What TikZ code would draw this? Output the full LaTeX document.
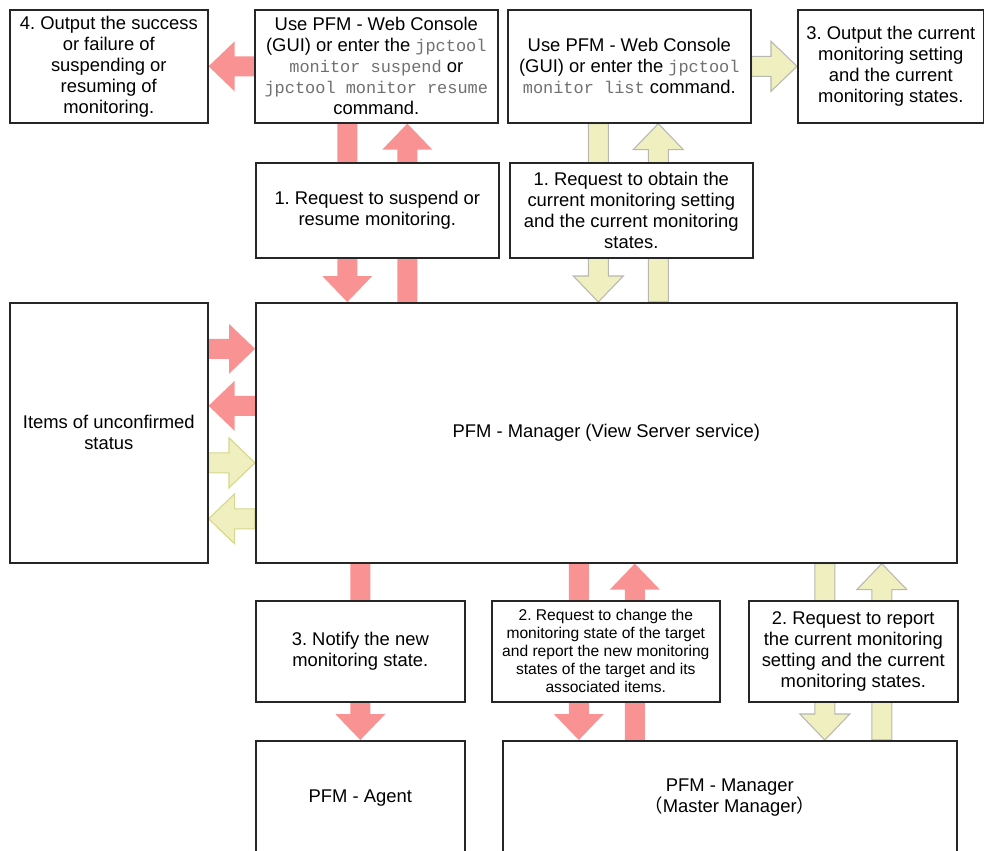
\documentclass[tikz,border=0pt]{standalone}
\usepackage{fontspec}
\setmainfont{Liberation Sans}
\setmonofont{Liberation Mono}[Scale=0.92]
\newfontfamily\cjk{Noto Sans CJK JP}
\usepackage{tikz}
\usetikzlibrary{
  calc,
  backgrounds
}
\frenchspacing
\definecolor{pfmRed}{HTML}{F99292}
\definecolor{pfmYellow}{HTML}{EFEFC0}
\definecolor{pfmOlive}{HTML}{D6D68C}
\definecolor{pfmGrey}{HTML}{B8B8B0}
\definecolor{pfmCmd}{HTML}{707070}
\newcommand\boxfont{\fontsize{13.8}{15.75}\selectfont}
\newcommand\smallboxfont{\fontsize{11.7}{13.5}\selectfont}
\newcommand\cmdtext[1]{{\ttfamily\color{pfmCmd}#1}}
% block arrow from #2 to #3, drawn with style #1
\newcommand\fatarrow[3]{%
  \path[#1] let \p1=#2, \p2=#3,
      \n1={atan2(\y2-\y1,\x2-\x1)} in
    ($(\p1)+(\n1-90:7.5pt)$)
    -- ($(\p2)+(\n1:-19.5pt)+(\n1-90:7.5pt)$)
    -- ($(\p2)+(\n1:-19.5pt)+(\n1-90:18.75pt)$)
    -- (\p2)
    -- ($(\p2)+(\n1:-19.5pt)+(\n1+90:18.75pt)$)
    -- ($(\p2)+(\n1:-19.5pt)+(\n1+90:7.5pt)$)
    -- ($(\p1)+(\n1+90:7.5pt)$) -- cycle;
}
\tikzset{
  pfmbox/.style={
    draw=black!85, line width=1.2pt, fill=white, anchor=north west,
    align=center, inner sep=2pt, font=\boxfont
  },
  redarrow/.style={fill=pfmRed},
  yellowarrow/.style={fill=pfmYellow, draw=pfmGrey, line width=0.8pt},
  sidearrow/.style={fill=pfmYellow, draw=pfmOlive, line width=0.8pt}
}

\begin{document}
\begin{tikzpicture}[x=0.75pt, y=-0.75pt]
  \useasboundingbox (0,0) rectangle (984,850);

  % top row
  \node[pfmbox, minimum width=198*0.75pt, minimum height=113*0.75pt] (out4) at (9,9)
    {4. Output the success\\or failure of\\suspending or\\resuming of\\monitoring.};
  \node[pfmbox, minimum width=243*0.75pt, minimum height=113*0.75pt] (cmdSR) at (254,9)
    {Use PFM - Web Console\\(GUI) or enter the \cmdtext{jpctool}\\\cmdtext{monitor suspend} or\\\cmdtext{jpctool monitor resume}\\command.};
  \node[pfmbox, minimum width=243*0.75pt, minimum height=113*0.75pt] (cmdList) at (507,9)
    {Use PFM - Web Console\\(GUI) or enter the \cmdtext{jpctool}\\\cmdtext{monitor list} command.};
  \node[pfmbox, minimum width=186*0.75pt, minimum height=113*0.75pt] (out3) at (797,9)
    {3. Output the current\\monitoring setting\\and the current\\monitoring states.};

  % first requests
  \node[pfmbox, minimum width=243*0.75pt, minimum height=95*0.75pt] (req1a) at (255,162)
    {1. Request to suspend or\\resume monitoring.};
  \node[pfmbox, minimum width=243*0.75pt, minimum height=95*0.75pt] (req1b) at (509,162)
    {1. Request to obtain the\\current monitoring setting\\and the current monitoring\\states.};

  % middle row
  \node[pfmbox, minimum width=198*0.75pt, minimum height=260*0.75pt] (items) at (9,302)
    {Items of unconfirmed\\status};
  \node[pfmbox, minimum width=701*0.75pt, minimum height=260*0.75pt] (pvs) at (255,302)
    {PFM - Manager (View Server service)};

  % second requests
  \node[pfmbox, minimum width=209*0.75pt, minimum height=101*0.75pt] (notify3) at (255,600)
    {3. Notify the new\\monitoring state.};
  \node[pfmbox, minimum width=228*0.75pt, minimum height=101*0.75pt, font=\smallboxfont] (req2a) at (491,600)
    {2. Request to change the\\monitoring state of the target\\and report the new monitoring\\states of the target and its\\associated items.};
  \node[pfmbox, minimum width=209*0.75pt, minimum height=101*0.75pt] (req2b) at (748,600)
    {2. Request to report\\the current monitoring\\setting and the current\\monitoring states.};

  % bottom row
  \node[pfmbox, minimum width=209*0.75pt, minimum height=114*0.75pt] (agent) at (255,740)
    {PFM - Agent};
  \node[pfmbox, minimum width=454*0.75pt, minimum height=114*0.75pt] (master) at (502,740)
    {PFM - Manager\\{\cjk （}Master Manager{\cjk ）}};

  \begin{scope}[on background layer]
    \coordinate (sr1) at ($(cmdSR.south)+(-29,0)$);
    \coordinate (sr2) at ($(cmdSR.south)+(31,0)$);
    \coordinate (ls1) at ($(cmdList.south)+(-31,0)$);
    \coordinate (ls2) at ($(cmdList.south)+(29,0)$);
    \coordinate (it1) at ($(items.east)+(0,-84)$);
    \coordinate (it2) at ($(items.east)+(0,-27)$);
    \coordinate (it3) at ($(items.east)+(0,30)$);
    \coordinate (it4) at ($(items.east)+(0,86)$);
    \coordinate (ms1) at ($(master.north)+(-151,0)$);
    \coordinate (ms2) at ($(master.north)+(-95,0)$);
    \coordinate (ms3) at ($(master.north)+(95,0)$);
    \coordinate (ms4) at ($(master.north)+(152,0)$);

    \fatarrow{redarrow}{(cmdSR.west)}{(out4.east)}
    \fatarrow{redarrow}{(sr1)}{(sr1 |- pvs.north)}
    \fatarrow{redarrow}{(sr2 |- pvs.north)}{(sr2)}
    \fatarrow{yellowarrow}{(cmdList.east)}{(out3.west)}
    \fatarrow{yellowarrow}{(ls1)}{(ls1 |- pvs.north)}
    \fatarrow{yellowarrow}{(ls2 |- pvs.north)}{(ls2)}

    \fatarrow{redarrow}{(it1)}{(it1 -| pvs.west)}
    \fatarrow{redarrow}{(it2 -| pvs.west)}{(it2)}
    \fatarrow{sidearrow}{(it3)}{(it3 -| pvs.west)}
    \fatarrow{sidearrow}{(it4 -| pvs.west)}{(it4)}

    \fatarrow{redarrow}{(pvs.south -| agent.north)}{(agent.north)}
    \fatarrow{redarrow}{(ms1 |- pvs.south)}{(ms1)}
    \fatarrow{redarrow}{(ms2)}{(ms2 |- pvs.south)}
    \fatarrow{yellowarrow}{(ms3 |- pvs.south)}{(ms3)}
    \fatarrow{yellowarrow}{(ms4)}{(ms4 |- pvs.south)}
  \end{scope}
\end{tikzpicture}
\end{document}
